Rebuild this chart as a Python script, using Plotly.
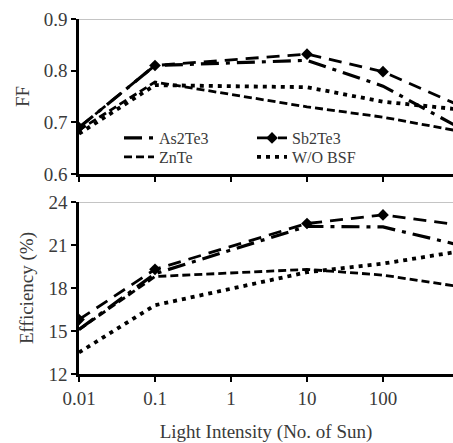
import plotly.graph_objects as go

# Data
intensity = [0.01, 0.1, 10, 100, 1000]
series_names = ["As2Te3", "Sb2Te3", "ZnTe", "W/O BSF"]
ff_as2te3 = [0.69, 0.81, 0.82, 0.77, 0.69]
ff_sb2te3 = [0.69, 0.81, 0.832, 0.798, 0.733]
ff_znte = [0.685, 0.778, 0.73, 0.71, 0.683]
ff_wobsf = [0.678, 0.772, 0.768, 0.740, 0.725]
eff_as2te3 = [15.1, 19.0, 22.3, 22.26, 21.0]
eff_sb2te3 = [15.8, 19.3, 22.5, 23.1, 22.4]
eff_znte = [15.1, 18.8, 19.3, 18.9, 18.1]
eff_wobsf = [13.5, 16.8, 19.1, 19.7, 20.55]
x_tickvals = [0.01, 0.1, 1, 10, 100]
x_ticktext = ["0.01", "0.1", "1", "10", "100"]

FONT = "Liberation Serif"
TXT = "#3a3a3a"

styles = {
    "As2Te3": dict(dash="18px,7px,4px,7px", width=3.2, marker=False),
    "Sb2Te3": dict(dash="13px,8px", width=2.8, marker=True),
    "ZnTe": dict(dash="8px,4px", width=2.8, marker=False),
    "W/O BSF": dict(dash="4px,5px", width=3.8, marker=False),
}
# one legend box per entry, arranged in two columns x two rows
legend_of = {"As2Te3": "legend", "Sb2Te3": "legend2", "ZnTe": "legend3", "W/O BSF": "legend4"}

ff = {"As2Te3": ff_as2te3, "Sb2Te3": ff_sb2te3, "ZnTe": ff_znte, "W/O BSF": ff_wobsf}
eff = {"As2Te3": eff_as2te3, "Sb2Te3": eff_sb2te3, "ZnTe": eff_znte, "W/O BSF": eff_wobsf}

fig = go.Figure()
for name in series_names:
    st = styles[name]
    mode = "lines+markers" if st["marker"] else "lines"
    common = dict(
        mode=mode,
        line=dict(color="black", width=st["width"], dash=st["dash"]),
        marker=dict(symbol="diamond", size=9, color="black"),
        name=name,
    )
    fig.add_trace(go.Scatter(x=intensity, y=ff[name], xaxis="x", yaxis="y",
                             legend=legend_of[name], showlegend=True, **common))
    fig.add_trace(go.Scatter(x=intensity, y=eff[name], xaxis="x2", yaxis="y2",
                             showlegend=False, **common))

axis_common = dict(
    showline=True, linecolor="black", linewidth=2.5,
    ticks="outside", tickcolor="black", tickwidth=2, ticklen=5,
    showgrid=False, zeroline=False, automargin=False,
    tickfont=dict(family=FONT, size=19, color=TXT),
)
xrange = [-2, 2.921]

L, R, T, B = 79, 0, 19, 69
H = 443 - T - B
W = 453 - L - R


def px_to_paper_y(py):
    return (443 - B - py) / H


def px_to_paper_x(px):
    return (px - L) / W


leg_font = dict(family=FONT, size=16, color=TXT)


def leg(px, py):
    return dict(x=px_to_paper_x(px), y=px_to_paper_y(py), xanchor="left", yanchor="middle",
                bgcolor="rgba(0,0,0,0)", font=leg_font, itemwidth=30)


fig.update_layout(
    width=453, height=443,
    margin=dict(l=L, r=R, t=T, b=B),
    paper_bgcolor="white", plot_bgcolor="white",
    font=dict(family=FONT, color=TXT),
    xaxis=dict(type="log", range=xrange, domain=[0, 1], anchor="y",
               tickvals=x_tickvals, ticktext=x_ticktext, showticklabels=False, **axis_common),
    yaxis=dict(range=[0.6, 0.9], dtick=0.1, tickformat=".1f", domain=[0.5634, 1], anchor="x",
               title=dict(text="FF", font=dict(family=FONT, size=19, color=TXT), standoff=10),
               **axis_common),
    xaxis2=dict(type="log", range=xrange, domain=[0, 1], anchor="y2",
                tickvals=x_tickvals, ticktext=x_ticktext,
                title=dict(text="Light Intensity (No. of Sun)", font=dict(family=FONT, size=19, color=TXT), standoff=20),
                **axis_common),
    yaxis2=dict(range=[12, 24], dtick=3, domain=[0, 0.4845], anchor="x2",
                title=dict(text="Efficiency (%)", font=dict(family=FONT, size=19, color=TXT), standoff=10),
                **axis_common),
    legend=leg(119, 138),
    legend2=leg(252, 138),
    legend3=leg(119, 157),
    legend4=leg(252, 157),
    shapes=[
        dict(type="line", xref="x domain", yref="y", x0=0, x1=1, y0=0.9, y1=0.9,
             line=dict(color="#b0b0b0", width=1.5), layer="below"),
        dict(type="line", xref="x2 domain", yref="y2", x0=0, x1=1, y0=24, y1=24,
             line=dict(color="#b0b0b0", width=1.5), layer="below"),
    ],
)

fig.write_html(
    "out.html",
    config={"displayModeBar": False},
    post_script="document.body.style.margin='0';document.body.style.overflow='hidden';",
)
